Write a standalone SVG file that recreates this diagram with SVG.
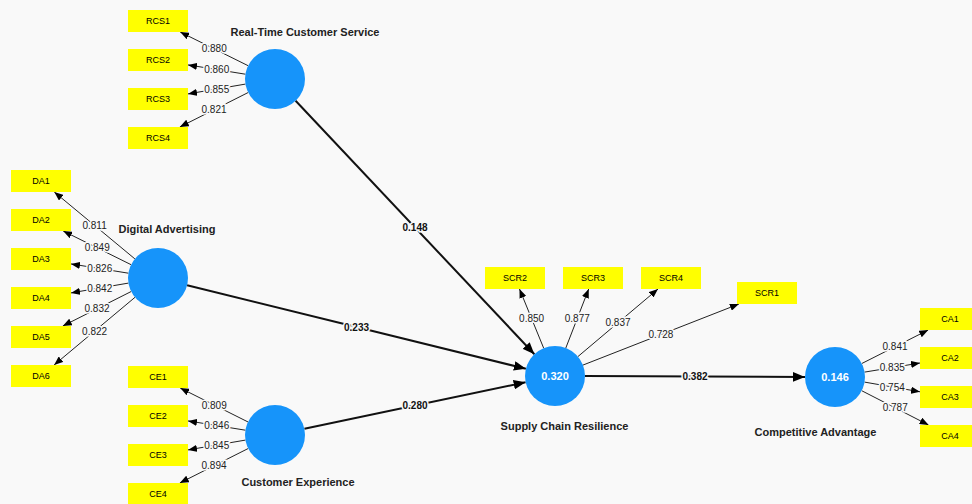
<svg xmlns="http://www.w3.org/2000/svg" width="972" height="504" viewBox="0 0 972 504">
<style>
.bg{fill:#f9f9f9}
.lv{fill:#1694fa}
.ind{fill:#ffff00}
.itxt{font-family:"Liberation Sans",Arial,sans-serif;font-size:9px;fill:#000;text-anchor:middle;dominant-baseline:central}
.name{font-family:"Liberation Sans",Arial,sans-serif;font-size:11px;font-weight:bold;fill:#222;text-anchor:middle}
.r2{font-family:"Liberation Sans",Arial,sans-serif;font-size:11px;font-weight:bold;fill:#fff;text-anchor:middle;dominant-baseline:central}
.ol{stroke:#222;stroke-width:1;fill:none;marker-end:url(#ah)}
.pl{stroke:#111;stroke-width:2;fill:none;marker-end:url(#ahb)}
.ltxt{font-family:"Liberation Sans",Arial,sans-serif;font-size:10px;fill:#222;text-anchor:middle;dominant-baseline:central;paint-order:stroke;stroke:#f9f9f9;stroke-width:3px}
.ptxt{font-family:"Liberation Sans",Arial,sans-serif;font-size:10px;font-weight:bold;fill:#111;text-anchor:middle;dominant-baseline:central;paint-order:stroke;stroke:#f9f9f9;stroke-width:3px}
</style>
<defs>
<marker id="ah" markerUnits="userSpaceOnUse" viewBox="0 0 10 8" markerWidth="9" markerHeight="7.2" refX="10" refY="4" orient="auto"><path d="M0,0 L10,4 L0,8 z" fill="#000"/></marker>
<marker id="ahb" markerUnits="userSpaceOnUse" viewBox="0 0 10 8" markerWidth="12" markerHeight="9.6" refX="10" refY="4" orient="auto"><path d="M0,0 L10,4 L0,8 z" fill="#000"/></marker>
</defs>
<rect class="bg" x="0" y="0" width="972" height="504"/>

<g id="connectors">
<!-- structural paths -->
<line class="pl" x1="295.6" y1="100.8" x2="534.4" y2="354.2"/>
<line class="pl" x1="187.1" y1="285.2" x2="525.9" y2="368.8"/>
<line class="pl" x1="304.4" y1="428.8" x2="525.6" y2="382.2"/>
<line class="pl" x1="585" y1="376.1" x2="805" y2="376.9"/>
<!-- outer loadings RCS -->
<line class="ol" x1="248.1" y1="65.7" x2="180.2" y2="32"/>
<line class="ol" x1="245.4" y1="74.2" x2="188" y2="64.9"/>
<line class="ol" x1="245.4" y1="84.1" x2="188" y2="93.9"/>
<line class="ol" x1="248.2" y1="92.5" x2="179.8" y2="127"/>
<!-- DA -->
<line class="ol" x1="134.9" y1="258.9" x2="54.3" y2="192"/>
<line class="ol" x1="131.1" y1="264.7" x2="63.2" y2="231"/>
<line class="ol" x1="128.4" y1="273.2" x2="71" y2="263.9"/>
<line class="ol" x1="128.4" y1="283.1" x2="71" y2="292.9"/>
<line class="ol" x1="131.2" y1="291.5" x2="62.8" y2="326"/>
<line class="ol" x1="135" y1="297.3" x2="54.1" y2="365"/>
<!-- CE -->
<line class="ol" x1="248.1" y1="422" x2="180.2" y2="388"/>
<line class="ol" x1="245.4" y1="430.2" x2="188" y2="420.9"/>
<line class="ol" x1="245.4" y1="440.1" x2="188" y2="449.9"/>
<line class="ol" x1="248.2" y1="448.5" x2="179.8" y2="483"/>
<!-- SCR -->
<line class="ol" x1="543.7" y1="348.2" x2="519.5" y2="289"/>
<line class="ol" x1="565.8" y1="348" x2="588.7" y2="289"/>
<line class="ol" x1="577.9" y1="356.6" x2="658" y2="289"/>
<line class="ol" x1="582.9" y1="365.1" x2="738.9" y2="304"/>
<!-- CA -->
<line class="ol" x1="861.8" y1="363.5" x2="928.2" y2="330"/>
<line class="ol" x1="864.6" y1="372.1" x2="920" y2="363"/>
<line class="ol" x1="864.6" y1="382.1" x2="920" y2="391.8"/>
<line class="ol" x1="861.7" y1="390.7" x2="928.6" y2="425"/>
<!-- labels -->
<text class="ptxt" x="415" y="227.5">0.148</text>
<text class="ptxt" x="356.5" y="327">0.233</text>
<text class="ptxt" x="415" y="405.5">0.280</text>
<text class="ptxt" x="695" y="376.5">0.382</text>
<text class="ltxt" x="214.2" y="48.9">0.880</text>
<text class="ltxt" x="216.7" y="69.6">0.860</text>
<text class="ltxt" x="216.7" y="89">0.855</text>
<text class="ltxt" x="214" y="109.8">0.821</text>
<text class="ltxt" x="94.6" y="225.5">0.811</text>
<text class="ltxt" x="97.2" y="247.9">0.849</text>
<text class="ltxt" x="99.7" y="268.6">0.826</text>
<text class="ltxt" x="99.7" y="288">0.842</text>
<text class="ltxt" x="97" y="308.8">0.832</text>
<text class="ltxt" x="94.6" y="331.2">0.822</text>
<text class="ltxt" x="214.2" y="405">0.809</text>
<text class="ltxt" x="216.7" y="425.6">0.846</text>
<text class="ltxt" x="216.7" y="445">0.845</text>
<text class="ltxt" x="214" y="465.8">0.894</text>
<text class="ltxt" x="531.6" y="318.6">0.850</text>
<text class="ltxt" x="577.3" y="318.5">0.877</text>
<text class="ltxt" x="618" y="322.8">0.837</text>
<text class="ltxt" x="660.9" y="334.6">0.728</text>
<text class="ltxt" x="895" y="346.8">0.841</text>
<text class="ltxt" x="892.3" y="367.5">0.835</text>
<text class="ltxt" x="892.3" y="387">0.754</text>
<text class="ltxt" x="895.2" y="407.9">0.787</text>
</g>

<g id="RCS">
<circle class="lv" cx="275" cy="79" r="30"/>
<text class="name" x="305" y="36">Real-Time Customer Service</text>
</g>
<g id="DA">
<circle class="lv" cx="158" cy="278" r="30"/>
<text class="name" x="167" y="233">Digital Advertising</text>
</g>
<g id="CE">
<circle class="lv" cx="275" cy="435" r="30"/>
<text class="name" x="298" y="486">Customer Experience</text>
</g>
<g id="SCR">
<circle class="lv" cx="555" cy="376" r="30"/>
<text class="r2" x="555" y="376">0.320</text>
<text class="name" x="564.5" y="430">Supply Chain Resilience</text>
</g>
<g id="CA">
<circle class="lv" cx="835" cy="377" r="30"/>
<text class="r2" x="835" y="377">0.146</text>
<text class="name" x="815.5" y="436">Competitive Advantage</text>
</g>

<g id="RCS1"><rect class="ind" x="128" y="10" width="60" height="22"/><text class="itxt" x="158" y="21">RCS1</text></g>
<g id="RCS2"><rect class="ind" x="128" y="49" width="60" height="22"/><text class="itxt" x="158" y="60">RCS2</text></g>
<g id="RCS3"><rect class="ind" x="128" y="88" width="60" height="22"/><text class="itxt" x="158" y="99">RCS3</text></g>
<g id="RCS4"><rect class="ind" x="128" y="127" width="60" height="22"/><text class="itxt" x="158" y="138">RCS4</text></g>

<g id="DA1"><rect class="ind" x="11" y="170" width="60" height="22"/><text class="itxt" x="41" y="181">DA1</text></g>
<g id="DA2"><rect class="ind" x="11" y="209" width="60" height="22"/><text class="itxt" x="41" y="220">DA2</text></g>
<g id="DA3"><rect class="ind" x="11" y="248" width="60" height="22"/><text class="itxt" x="41" y="259">DA3</text></g>
<g id="DA4"><rect class="ind" x="11" y="287" width="60" height="22"/><text class="itxt" x="41" y="298">DA4</text></g>
<g id="DA5"><rect class="ind" x="11" y="326" width="60" height="22"/><text class="itxt" x="41" y="337">DA5</text></g>
<g id="DA6"><rect class="ind" x="11" y="365" width="60" height="22"/><text class="itxt" x="41" y="376">DA6</text></g>

<g id="CE1"><rect class="ind" x="128" y="366" width="60" height="22"/><text class="itxt" x="158" y="377">CE1</text></g>
<g id="CE2"><rect class="ind" x="128" y="405" width="60" height="22"/><text class="itxt" x="158" y="416">CE2</text></g>
<g id="CE3"><rect class="ind" x="128" y="444" width="60" height="22"/><text class="itxt" x="158" y="455">CE3</text></g>
<g id="CE4"><rect class="ind" x="128" y="483" width="60" height="22"/><text class="itxt" x="158" y="494">CE4</text></g>

<g id="SCR2"><rect class="ind" x="485" y="267" width="60" height="22"/><text class="itxt" x="515" y="278">SCR2</text></g>
<g id="SCR3"><rect class="ind" x="563" y="267" width="60" height="22"/><text class="itxt" x="593" y="278">SCR3</text></g>
<g id="SCR4"><rect class="ind" x="641" y="267" width="60" height="22"/><text class="itxt" x="671" y="278">SCR4</text></g>
<g id="SCR1"><rect class="ind" x="737" y="282" width="60" height="22"/><text class="itxt" x="767" y="293">SCR1</text></g>

<g id="CA1"><rect class="ind" x="920" y="308" width="60" height="22"/><text class="itxt" x="950" y="319">CA1</text></g>
<g id="CA2"><rect class="ind" x="920" y="347" width="60" height="22"/><text class="itxt" x="950" y="358">CA2</text></g>
<g id="CA3"><rect class="ind" x="920" y="386" width="60" height="22"/><text class="itxt" x="950" y="397">CA3</text></g>
<g id="CA4"><rect class="ind" x="920" y="425" width="60" height="22"/><text class="itxt" x="950" y="436">CA4</text></g>
</svg>
